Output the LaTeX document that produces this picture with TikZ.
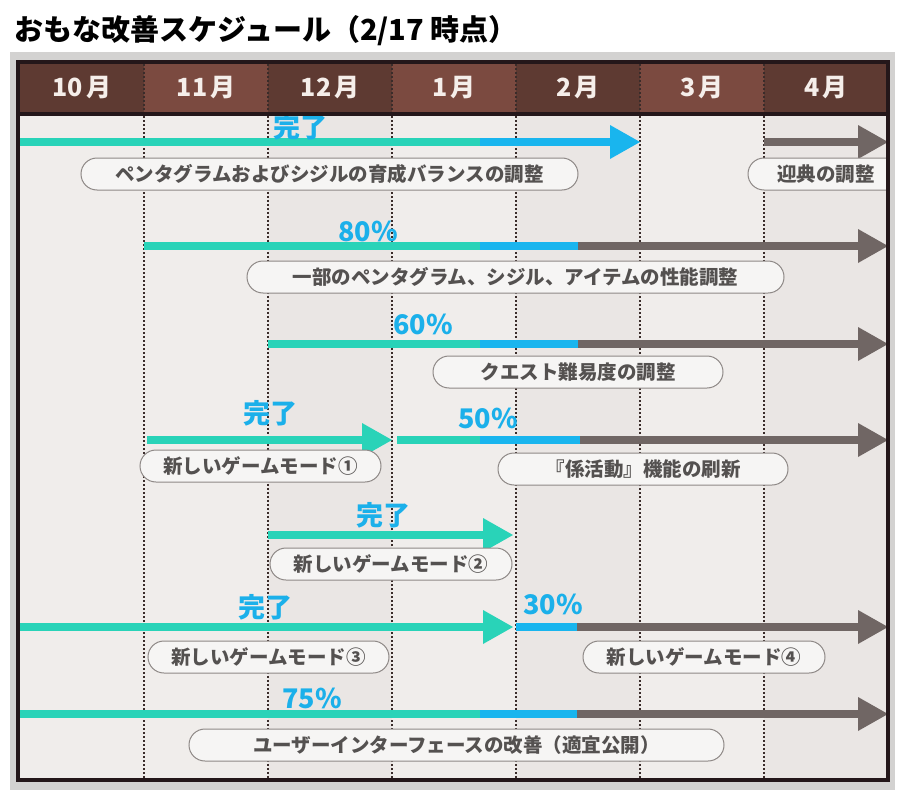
\documentclass[tikz,border=0pt]{standalone}
\usepackage{fontspec}
\setmainfont{Noto Sans CJK JP}
\definecolor{framegray}{HTML}{D3D2D1}
\definecolor{borderdark}{HTML}{24171A}
\definecolor{hdark}{HTML}{5E3A32}
\definecolor{hlight}{HTML}{7B4A40}
\definecolor{bodybg}{HTML}{F0EDEB}
\definecolor{bodycol}{HTML}{EAE6E4}
\definecolor{dotcol}{HTML}{3A2C2A}
\definecolor{barteal}{HTML}{29D3B8}
\definecolor{barblue}{HTML}{19B5EE}
\definecolor{bargray}{HTML}{706664}
\definecolor{pillline}{HTML}{8E8886}
\definecolor{pillfill}{HTML}{F6F5F4}
\definecolor{pilltext}{HTML}{545150}
\definecolor{pctblue}{HTML}{1BB0EA}
\definecolor{monthtext}{HTML}{F5EEEA}
\begin{document}
\begin{tikzpicture}[x=1pt,y=-1pt,
  bar/.style={line width=8pt},
  pill/.style={draw=pillline, line width=1pt, fill=pillfill, rounded corners=16pt,
    minimum height=32pt, inner sep=0pt, text=pilltext,
    font=\bfseries\fontsize{19.5}{20}\selectfont},
  pct/.style={text=pctblue, inner sep=0pt, font=\bfseries\fontsize{27}{28}\selectfont},
  month/.style={text=monthtext, font=\bfseries\fontsize{25}{26}\selectfont},
  dotline/.style={dotcol, line width=1.2pt, dash pattern=on 2pt off 2pt},
  tipshape/.pic={\fill (-30,-17) -- (0,0) -- (-30,17) -- cycle;}
]
\useasboundingbox (0,0) rectangle (900,792);
\fill[white] (0,0) rectangle (900,792);
% title
\node[anchor=west, inner sep=0pt, font=\bfseries\fontsize{29}{31}\selectfont] (title) at (14,31) {おもな改善スケジュール（2/17 時点）};
% frame
\fill[framegray] (10,52) rectangle (895,790);
\fill[bodybg] (20,64) rectangle (886,778);
\fill[bodycol] (268,116) rectangle (392,778);
\fill[bodycol] (516,116) rectangle (640,778);
\fill[bodycol] (764,116) rectangle (886,778);
% header
\fill[hdark] (20,64) rectangle (144,112);
\fill[hlight] (144,64) rectangle (268,112);
\fill[hdark] (268,64) rectangle (392,112);
\fill[hlight] (392,64) rectangle (516,112);
\fill[hdark] (516,64) rectangle (640,112);
\fill[hlight] (640,64) rectangle (764,112);
\fill[hdark] (764,64) rectangle (886,112);
\node[month] (m10) at (82,88) {10\hspace{3pt}月};
\node[month] (m11) at (206,88) {11\hspace{3pt}月};
\node[month] (m12) at (330,88) {12\hspace{3pt}月};
\node[month] (m1) at (454,88) {1\hspace{3pt}月};
\node[month] (m2) at (578,88) {2\hspace{3pt}月};
\node[month] (m3) at (702,88) {3\hspace{3pt}月};
\node[month] (m4) at (826,88) {4\hspace{3pt}月};
% dotted grid
\foreach \x in {144,268,392,516,640,764} {\draw[dotline] (\x,64) -- (\x,778);}
\begin{scope}
\clip (20,64) rectangle (886,778);
% row 1
\draw[bar, barteal] (20,142) -- (480,142);
\draw[bar, barblue] (480,142) -- (620,142);
\pic[barblue] at (640,142) {tipshape};
\draw[bar, bargray] (764,142) -- (866,142);
\pic[bargray] at (888,142) {tipshape};
\node[pct] (p1) at (300,127) {完了};
\node[pill, minimum width=497pt] (l1) at (329.5,174) {ペンタグラムおよびシジルの育成バランスの調整};
\node[pill, minimum width=156pt] (l2) at (826,174) {迎典の調整};
% row 2
\draw[bar, barteal] (144,246) -- (480,246);
\draw[bar, barblue] (480,246) -- (578,246);
\draw[bar, bargray] (578,246) -- (866,246);
\pic[bargray] at (888,246) {tipshape};
\node[pct] (p2) at (368,231) {80\%};
\node[pill, minimum width=537pt] (l3) at (515.5,277) {一部のペンタグラム、シジル、アイテムの性能調整};
% row 3
\draw[bar, barteal] (268,344) -- (480,344);
\draw[bar, barblue] (480,344) -- (578,344);
\draw[bar, bargray] (578,344) -- (866,344);
\pic[bargray] at (888,344) {tipshape};
\node[pct] (p3) at (423,324) {60\%};
\node[pill, minimum width=290pt] (l4) at (578,372) {クエスト難易度の調整};
% row 4
\draw[bar, barteal] (147,440) -- (372,440);
\pic[barteal] at (392,440) {tipshape};
\draw[bar, barteal] (397,440) -- (480,440);
\draw[bar, barblue] (480,440) -- (580,440);
\draw[bar, bargray] (580,440) -- (866,440);
\pic[bargray] at (888,440) {tipshape};
\node[pct] (p4) at (270,413) {完了};
\node[pct] (p5) at (488,418) {50\%};
\node[pill, minimum width=241pt] (l5) at (260.5,466) {新しいゲームモード①};
\node[pill, minimum width=290pt] (l6) at (643,469) {『係活動』機能の刷新};
% row 5
\draw[bar, barteal] (268,535) -- (493,535);
\pic[barteal] at (513,535) {tipshape};
\node[pct] (p6) at (383,515) {完了};
\node[pill, minimum width=242pt] (l7) at (391,564) {新しいゲームモード②};
% row 6
\draw[bar, barteal] (20,627) -- (493,627);
\pic[barteal] at (513,627) {tipshape};
\draw[bar, barblue] (516,627) -- (577,627);
\draw[bar, bargray] (577,627) -- (866,627);
\pic[bargray] at (888,627) {tipshape};
\node[pct] (p7) at (265,607) {完了};
\node[pct] (p8) at (553,604) {30\%};
\node[pill, minimum width=241pt] (l8) at (268.5,657) {新しいゲームモード③};
\node[pill, minimum width=242pt] (l9) at (704,657) {新しいゲームモード④};
% row 7
\draw[bar, barteal] (20,714) -- (480,714);
\draw[bar, barblue] (480,714) -- (577,714);
\draw[bar, bargray] (577,714) -- (866,714);
\pic[bargray] at (888,714) {tipshape};
\node[pct] (p9) at (312,698) {75\%};
\node[pill, minimum width=535pt] (l10) at (456.5,745) {ユーザーインターフェースの改善（適宜公開）};
\end{scope}
% borders
\draw[borderdark, line width=3.5pt] (20,114) -- (886,114);
\draw[borderdark, line width=4pt] (18,62) rectangle (888,780);
\end{tikzpicture}
\end{document}
